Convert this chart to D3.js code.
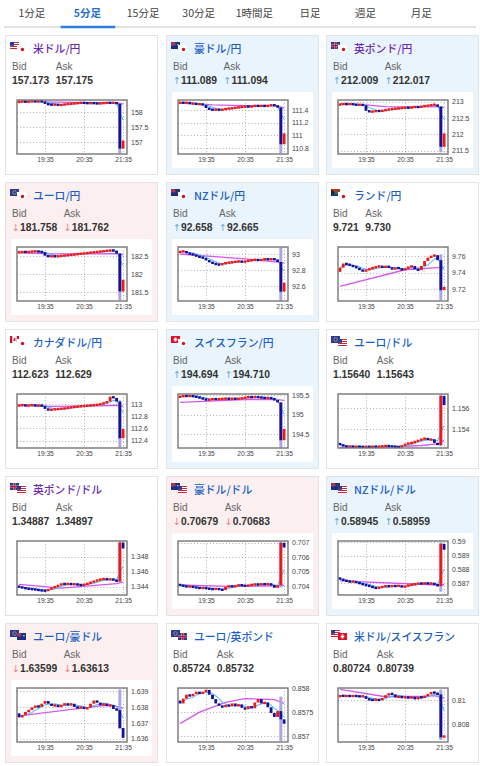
<!DOCTYPE html>
<html><head><meta charset="utf-8">
<script src="https://cdn.jsdelivr.net/npm/d3@7"></script>
<style>body{margin:0;background:#fff}svg{display:block}</style>
</head><body>
<svg id="c" width="480" height="766"></svg>
<script>
// ---------------- DATA ----------------
const tabs = ["1分足","5分足","15分足","30分足","1時間足","日足","週足","月足"];
const activeTab = "5分足";
const pairNames = ["米ドル/円","豪ドル/円","英ポンド/円","ユーロ/円","NZドル/円","ランド/円","カナダドル/円","スイスフラン/円","ユーロ/ドル","英ポンド/ドル","豪ドル/ドル","NZドル/ドル","ユーロ/豪ドル","ユーロ/英ポンド","米ドル/スイスフラン"];
const visited = [true,false,true,false,false,false,false,false,false,true,false,false,false,false,false];
const flags = [["us","jp"],["au","jp"],["gb","jp"],["eu","jp"],["nz","jp"],["za","jp"],["ca","jp"],["ch","jp"],["eu","us"],["gb","us"],["au","us"],["nz","us"],["eu","au"],["eu","gb"],["us","ch"]];
const bids = ["157.173","111.089","212.009","181.758","92.658","9.721","112.623","194.694","1.15640","1.34887","0.70679","0.58945","1.63599","0.85724","0.80724"];
const asks = ["157.175","111.094","212.017","181.762","92.665","9.730","112.629","194.710","1.15643","1.34897","0.70683","0.58959","1.63613","0.85732","0.80739"];
const trend = ["","up","up","down","up","","","up","","","down","up","down","",""];

// candle closes, 5-minute bars 18:55 ... 21:35
const usdjpy = [158.34,158.35,158.34,158.35,158.36,158.35,158.36,158.35,158.27,158.25,158.24,158.25,158.23,158.24,158.26,158.27,158.28,158.29,158.30,158.31,158.30,158.29,158.30,158.29,158.28,158.29,158.30,158.31,158.30,158.31,158.28,156.78,157.05];
const audjpy = [111.52,111.51,111.52,111.50,111.505,111.49,111.495,111.48,111.43,111.41,111.40,111.41,111.40,111.41,111.42,111.425,111.43,111.44,111.445,111.45,111.46,111.45,111.46,111.47,111.46,111.47,111.46,111.47,111.48,111.47,111.44,110.86,111.03];
const gbpjpy = [212.92,212.93,212.92,212.93,212.91,212.90,212.91,212.89,212.72,212.69,212.70,212.72,212.71,212.73,212.75,212.77,212.78,212.79,212.80,212.81,212.82,212.81,212.83,212.84,212.83,212.86,212.87,212.88,212.90,212.91,212.85,211.62,212.03];
const eurjpy = [182.60,182.61,182.60,182.61,182.62,182.625,182.61,182.60,182.50,182.48,182.49,182.48,182.49,182.50,182.51,182.52,182.53,182.54,182.55,182.56,182.57,182.58,182.59,182.60,182.61,182.62,182.63,182.64,182.65,182.64,182.56,181.52,181.84];
const nzdjpy = [93.03,93.035,93.01,93.00,92.99,92.97,92.96,92.95,92.92,92.90,92.88,92.87,92.865,92.88,92.89,92.895,92.90,92.905,92.91,92.90,92.91,92.92,92.925,92.93,92.92,92.93,92.94,92.93,92.94,92.93,92.90,92.53,92.64];
const zarjpy = [9.746,9.751,9.750,9.749,9.747,9.746,9.743,9.742,9.743,9.745,9.746,9.747,9.748,9.746,9.748,9.746,9.744,9.746,9.745,9.743,9.745,9.747,9.748,9.744,9.743,9.748,9.754,9.758,9.760,9.761,9.755,9.719,9.723];
const cadjpy = [112.98,112.985,112.97,112.98,112.985,112.97,112.98,112.97,112.92,112.90,112.91,112.915,112.92,112.925,112.93,112.94,112.95,112.955,112.96,112.965,112.97,112.975,112.98,112.985,112.99,113.00,113.02,113.04,113.12,113.10,113.04,112.44,112.59];
const chfjpy = [195.46,195.48,195.47,195.48,195.46,195.45,195.42,195.40,195.37,195.39,195.40,195.39,195.40,195.405,195.41,195.40,195.41,195.40,195.41,195.42,195.44,195.45,195.44,195.45,195.44,195.43,195.42,195.43,195.41,195.37,195.31,194.34,194.63];
const eurusd = [1.15248,1.15235,1.15228,1.15232,1.15226,1.15231,1.15228,1.15226,1.15229,1.15226,1.15231,1.15228,1.15231,1.15234,1.15238,1.15233,1.15230,1.15228,1.15225,1.15240,1.15255,1.15262,1.15268,1.15280,1.15290,1.15302,1.15310,1.15295,1.15300,1.15265,1.15245,1.15720,1.15630];
const gbpusd = [1.34395,1.34385,1.34375,1.34370,1.34365,1.34360,1.34352,1.34348,1.34345,1.34365,1.34385,1.34400,1.34420,1.34440,1.34435,1.34440,1.34430,1.34435,1.34425,1.34420,1.34430,1.34445,1.34460,1.34475,1.34490,1.34500,1.34505,1.34495,1.34500,1.34490,1.34470,1.34990,1.34910];
const audusd = [0.70405,0.70400,0.70395,0.70398,0.70392,0.70388,0.70385,0.70388,0.70383,0.70380,0.70378,0.70382,0.70376,0.70372,0.70395,0.70400,0.70396,0.70402,0.70408,0.70404,0.70400,0.70406,0.70410,0.70413,0.70410,0.70414,0.70412,0.70415,0.70408,0.70388,0.70405,0.70700,0.70667];
const nzdusd = [0.58730,0.58722,0.58715,0.58710,0.58714,0.58705,0.58698,0.58690,0.58685,0.58678,0.58670,0.58664,0.58672,0.58676,0.58682,0.58678,0.58682,0.58680,0.58684,0.58672,0.58680,0.58688,0.58692,0.58696,0.58700,0.58698,0.58702,0.58698,0.58700,0.58692,0.58680,0.58985,0.58942];
const euraud = [1.63735,1.63747,1.63768,1.63780,1.63797,1.63806,1.63800,1.63820,1.63837,1.63820,1.63806,1.63812,1.63800,1.63812,1.63820,1.63812,1.63820,1.63800,1.63793,1.63800,1.63787,1.63795,1.63820,1.63840,1.63827,1.63810,1.63820,1.63806,1.63812,1.63787,1.63780,1.63667,1.63605];
const eurgbp = [0.85768,0.85778,0.85786,0.85783,0.85788,0.85792,0.85788,0.85792,0.85796,0.85786,0.85777,0.85768,0.85763,0.85760,0.85765,0.85762,0.85768,0.85762,0.85766,0.85759,0.85756,0.85762,0.85758,0.85770,0.85777,0.85768,0.85770,0.85760,0.85748,0.85740,0.85752,0.85735,0.85726];
const usdchf = [0.81040,0.81035,0.81038,0.81035,0.81038,0.81035,0.81032,0.81035,0.81012,0.81005,0.81002,0.81008,0.81000,0.81020,0.81043,0.81057,0.81050,0.81024,0.81035,0.81020,0.81030,0.81017,0.81030,0.81008,0.81030,0.81020,0.81038,0.81050,0.81070,0.81060,0.81050,0.80692,0.80705];
const closes = [usdjpy,audjpy,gbpjpy,eurjpy,nzdjpy,zarjpy,cadjpy,chfjpy,eurusd,gbpusd,audusd,nzdusd,euraud,eurgbp,usdchf];
const firstOpens = [158.33,111.51,212.90,182.59,93.02,9.741,112.97,195.45,1.15260,1.34405,0.70410,0.58740,1.63760,0.85774,0.81030];
// high / low of the 21:30 bar (long wick)
const spikeHL = [[158.29,156.62],[111.45,110.72],[212.86,211.45],[182.57,181.28],[93.08,92.42],[9.762,9.707],[113.06,112.29],[195.31,194.15],[1.15735,1.15235],[1.3500,1.3446],[0.70708,0.7039],[0.58995,0.5864],[1.6391,1.6366],[0.85782,0.8569],[0.8109,0.8067]];
// long moving-average line, [bar index, value]
const longMA = [
  [[0,158.36],[8,158.34],[20,158.31],[30,158.31],[32,158.26]],
  [[0,111.51],[10,111.48],[20,111.47],[30,111.47],[32,111.43]],
  [[0,212.93],[8,212.90],[14,212.85],[30,212.84],[32,212.82]],
  [[0,182.58],[10,182.55],[20,182.55],[30,182.56],[32,182.53]],
  [[0,93.00],[20,92.94],[32,92.89]],
  [[0,9.7235],[20,9.7435],[30,9.746],[32,9.746]],
  [[0,112.98],[10,112.96],[25,112.97],[30,112.98],[32,112.96]],
  [[0,195.31],[20,195.38],[30,195.38],[32,195.36]],
  [[0,1.15222],[15,1.15224],[25,1.15240],[30,1.15255],[32,1.15290]],
  [[0,1.3443],[13,1.3438],[30,1.3444],[32,1.3446]],
  [[0,0.70408],[15,0.70398],[25,0.70400],[32,0.70405]],
  [[0,0.58718],[30,0.58688],[32,0.58690]],
  [[0,1.63743],[25,1.63806],[29,1.63810],[32,1.63790]],
  [[0,0.85726],[6,0.85750],[14,0.85770],[20,0.85778],[29,0.85776],[32,0.85768]],
  [[0,0.81092],[14,0.81030],[27,0.81035],[29,0.81040],[32,0.81020]]
];
const yDomains = [[156.6,158.4],[110.705,111.558],[211.40,213.05],[181.26,182.74],[92.4125,93.0875],[9.706,9.7708],[112.28,113.164],[194.141,195.526],[1.15216,1.15738],[1.34289,1.3501],[0.70338,0.70712],[0.58616,0.59005],[1.63579,1.63919],[0.85688,0.85800],[0.80653,0.81103]];
const yTicks = [[157,157.5,158],[110.8,111,111.2,111.4],[211.5,212,212.5,213],[181.5,182,182.5],[92.6,92.8,93],[9.72,9.74,9.76],[112.4,112.6,112.8,113],[194.5,195,195.5],[1.154,1.156],[1.344,1.346,1.348],[0.704,0.705,0.706,0.707],[0.587,0.588,0.589,0.59],[1.636,1.637,1.638,1.639],[0.857,0.8575,0.858],[0.808,0.81]];
const xTickLabels = ["19:35","20:35","21:35"];
const firstBar = "18:55", barMinutes = 5, viewStart = "18:52", viewEnd = "21:41";

// ---------------- DRAW ----------------
const svg = d3.select("#c");
const parseT = d3.timeParse("%H:%M");
const fmtT = d3.timeFormat("%H:%M");
const T0 = parseT(firstBar);
const times = closes[0].map((_, i) => d3.timeMinute.offset(T0, barMinutes * i));

// tabs
const tabX = d3.scaleBand().domain(tabs).range([4, 449]);
svg.append("line").attr("x1",4).attr("x2",476).attr("y1",27).attr("y2",27).attr("stroke","#e2e2e2").attr("stroke-width",2);
svg.append("line").attr("x1",tabX(activeTab)+1).attr("x2",tabX(activeTab)+tabX.bandwidth()).attr("y1",27).attr("y2",27).attr("stroke","#2f7fd6").attr("stroke-width",2.5);
svg.selectAll("text.tab").data(tabs).join("text").attr("class","tab")
  .attr("x", d => tabX(d) + tabX.bandwidth()/2).attr("y", 17).attr("text-anchor","middle")
  .attr("font-family","'Noto Sans CJK JP', sans-serif").attr("font-size",10.5)
  .attr("fill", d => d === activeTab ? "#1f6fcb" : "#444").attr("font-weight", d => d === activeTab ? 700 : 400)
  .text(d => d);

const cardX = [5,166,326], rowY = [35,182,329,476,623], cardW = 153, cardH = 140;

function drawFlag(g, code, x, y, w, h) {
  const f = g.append("g");
  const r = (a,b,c,d,col)=>f.append("rect").attr("x",x+a).attr("y",y+b).attr("width",c).attr("height",d).attr("fill",col);
  if (code === "us") {
    r(0,0,w,h,"#fff");
    for (let i=0;i<4;i++) r(0,i*h/3.5,w,h/7,"#c8283c");
    r(0,0,w*0.45,h*0.55,"#2a3a8c");
  } else if (code === "jp") {
    r(0,0,w,h,"#fff");
    f.append("circle").attr("cx",x+w/2+1).attr("cy",y+h/2+1).attr("r",1.7).attr("fill","#d0102a");
  } else if (code === "au" || code === "nz") {
    r(0,0,w,h,"#1c2f7e");
    r(0,0,w*0.5,h*0.5,"#3b4e9c");
    r(w*0.2,0,1.2,h*0.5,"#e23");
    r(0,h*0.22,w*0.5,1.2,"#e23");
    r(w*0.7,h*0.3,1.2,1.2,code==="nz"?"#e23":"#fff");
  } else if (code === "gb") {
    r(0,0,w,h,"#2a3a8c");
    r(w*0.4,0,w*0.2,h,"#fff"); r(0,h*0.38,w,h*0.24,"#fff");
    r(w*0.45,0,w*0.1+0.3,h,"#d0102a"); r(0,h*0.43,w,h*0.14+0.3,"#d0102a");
  } else if (code === "eu") {
    r(0,0,w,h,"#2a3a9c");
    f.append("circle").attr("cx",x+w/2).attr("cy",y+h/2).attr("r",1.8).attr("fill","none").attr("stroke","#d8c838").attr("stroke-width",0.6);
  } else if (code === "za") {
    r(0,0,w,h,"#1a8a3a"); r(0,0,w,h*0.3,"#d22"); r(0,h*0.7,w,h*0.3,"#2233aa");
    f.append("path").attr("d",`M${x},${y}L${x+w*0.45},${y+h/2}L${x},${y+h}Z`).attr("fill","#222");
  } else if (code === "ca") {
    r(0,0,w,h,"#fff"); r(0,0,w*0.25,h,"#d0102a"); r(w*0.75,0,w*0.25,h,"#d0102a");
    r(w*0.4,h*0.3,w*0.2,h*0.4,"#d0102a");
  } else if (code === "ch") {
    r(0,0,w,h,"#e0102a"); r(w/2-0.8,h*0.2,1.6,h*0.6,"#fff"); r(w*0.3,h/2-0.8,w*0.4,1.6,"#fff");
  }
}

pairNames.forEach((name, k) => {
  const cx = cardX[k % 3], cy = rowY[Math.floor(k / 3)];
  const g = svg.append("g");
  const bg = trend[k] === "up" ? "#eaf4fc" : trend[k] === "down" ? "#fcefef" : "#ffffff";
  g.append("rect").attr("x",cx+0.5).attr("y",cy+0.5).attr("width",cardW-1).attr("height",cardH-1)
    .attr("fill",bg).attr("stroke","#e3e3e3").attr("stroke-width",1);
  // flags
  drawFlag(g, flags[k][0], cx+5, cy+7, 9, 7);
  drawFlag(g, flags[k][1], cx+12, cy+10, 9, 7);
  // title
  g.append("text").attr("x",cx+28).attr("y",cy+18).attr("font-family","'Noto Sans CJK JP', sans-serif")
    .attr("font-size",10.8).attr("font-weight",500).attr("fill", visited[k] ? "#6b2bb0" : "#1a5fc4").text(name);
  // Bid / Ask
  const lbl = (x, t) => g.append("text").attr("x",x).attr("y",cy+35).attr("font-family","'Liberation Sans', Arial, sans-serif")
    .attr("font-size",10).attr("fill","#666").text(t);
  const val = (x, v) => {
    const t = g.append("text").attr("x",x).attr("y",cy+49).attr("font-family","'Liberation Sans', Arial, sans-serif")
      .attr("font-size",10.3).attr("font-weight",700).attr("fill","#333");
    if (trend[k]) t.append("tspan").attr("fill", trend[k]==="up" ? "#5aaae0" : "#e2837c").attr("font-weight",400)
      .attr("font-family","'DejaVu Sans', sans-serif").attr("font-size",9.5)
      .text(trend[k]==="up" ? "↑" : "↓");
    t.append("tspan").text(v);
    return t;
  };
  lbl(cx+7, "Bid");
  const bt = val(cx+7, bids[k]);
  const askX = cx + 7 + bt.node().getComputedTextLength() + 6.5;
  lbl(askX, "Ask");
  val(askX, asks[k]);

  // chart panel
  if (trend[k]) g.append("rect").attr("x",cx+6).attr("y",cy+57).attr("width",141).attr("height",76).attr("fill","#fff");
  const px = cx + 12, py = cy + 65, pw = 110, ph = 54;
  const x = d3.scaleTime().domain([parseT(viewStart), parseT(viewEnd)]).range([px, px + pw]);
  const y = d3.scaleLinear().domain(yDomains[k]).range([py + ph, py]);
  g.append("rect").attr("x",px).attr("y",py).attr("width",pw).attr("height",ph).attr("fill","#fff");
  const clipId = "clip" + k;
  g.append("clipPath").attr("id",clipId).append("rect").attr("x",px).attr("y",py).attr("width",pw).attr("height",ph);
  const inner = g.append("g").attr("clip-path",`url(#${clipId})`);
  // grid
  inner.selectAll("line.hg").data(yTicks[k]).join("line").attr("class","hg")
    .attr("x1",px).attr("x2",px+pw).attr("y1",d=>Math.round(y(d))+0.5).attr("y2",d=>Math.round(y(d))+0.5)
    .attr("stroke","#9a9a9a").attr("stroke-width",0.8).attr("stroke-dasharray","1,2.2");
  inner.selectAll("line.vg").data(xTickLabels.map(parseT)).join("line").attr("class","vg")
    .attr("x1",d=>Math.round(x(d))+0.5).attr("x2",d=>Math.round(x(d))+0.5).attr("y1",py).attr("y2",py+ph)
    .attr("stroke","#9a9a9a").attr("stroke-width",0.8).attr("stroke-dasharray","1,2.2");

  const cl = closes[k];
  const opens = cl.map((c, i) => i === 0 ? firstOpens[k] : cl[i - 1]);
  // long MA (magenta)
  inner.append("path").datum(longMA[k])
    .attr("d", d3.line().x(d => x(times[d[0]])).y(d => y(d[1])))
    .attr("fill","none").attr("stroke","#d458ee").attr("stroke-width",1.3);
  // short MA (light blue): 5-bar average of closes
  const ma5 = cl.map((c, i) => d3.mean(cl.slice(Math.max(0, i - 4), i + 1)));
  inner.append("path").datum(ma5)
    .attr("d", d3.line().x((d, i) => x(times[i])).y(d => y(d)))
    .attr("fill","none").attr("stroke","#5cc0f2").attr("stroke-width",1.1);
  // spike wick on the 21:30 bar
  const si = cl.length - 2;
  inner.append("rect").attr("x", x(times[si]) - 1.5).attr("width", 3)
    .attr("y", y(spikeHL[k][0])).attr("height", y(spikeHL[k][1]) - y(spikeHL[k][0]))
    .attr("fill","#a9a6e6");
  // candles
  const minH = 2.4;
  inner.selectAll("rect.cd").data(cl).join("rect").attr("class","cd")
    .attr("x",(d,i)=>x(times[i]) - 1.4).attr("width",2.8)
    .attr("y",(d,i)=>{ const h = Math.abs(y(d)-y(opens[i])); return Math.min(y(d), y(opens[i])) - (h < minH ? (minH - h)/2 : 0); })
    .attr("height",(d,i)=>Math.max(minH, Math.abs(y(d) - y(opens[i]))))
    .attr("fill",(d,i)=> d >= opens[i] ? "#f21616" : "#12129a");
  // frame
  g.append("rect").attr("x",px).attr("y",py).attr("width",pw).attr("height",ph)
    .attr("fill","none").attr("stroke","#777").attr("stroke-width",1.4);
  // axes
  const ya = g.append("g").attr("transform",`translate(${px+pw},0)`)
    .call(d3.axisRight(y).tickValues(yTicks[k]).tickSize(0).tickPadding(4).tickFormat(d => String(d)));
  ya.select(".domain").remove();
  ya.selectAll("text").attr("font-family","'Liberation Sans', Arial, sans-serif").attr("font-size",7).attr("fill","#444");
  const xa = g.append("g").attr("transform",`translate(0,${py+ph})`)
    .call(d3.axisBottom(x).tickValues(xTickLabels.map(parseT)).tickSize(0).tickPadding(3).tickFormat(fmtT));
  xa.select(".domain").remove();
  xa.selectAll("text").attr("font-family","'Liberation Sans', Arial, sans-serif").attr("font-size",6.6).attr("fill","#444");
});
</script>
</body></html>
